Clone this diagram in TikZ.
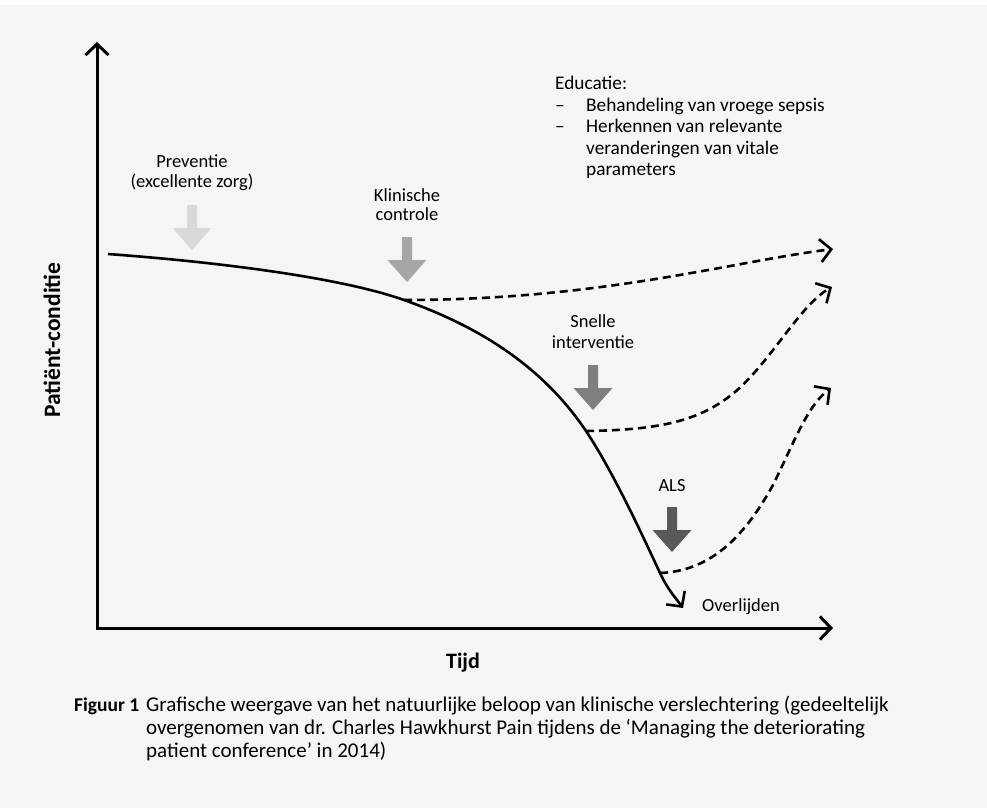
\documentclass[tikz,border=0pt]{standalone}
\usepackage{fontspec}
\setmainfont{Carlito}
\usetikzlibrary{arrows.meta}

\definecolor{paper}{HTML}{F5F5F5}
\definecolor{shadeA}{HTML}{D9D9D9}
\definecolor{shadeB}{HTML}{A6A6A6}
\definecolor{shadeC}{HTML}{7F7F7F}
\definecolor{shadeD}{HTML}{595959}

\tikzset{
  barb/.tip={Straight Barb[length=11pt,width=23pt]},
  axisline/.style={line width=3pt,line join=miter,{barb}-{barb}},
  course/.style={line width=2.6pt,-{barb}},
  outcome/.style={line width=2.6pt,dash pattern=on 8pt off 5pt,-{barb}},
  lbl/.style={font=\fontsize{18.5}{22}\selectfont,inner sep=0pt,anchor=base},
  lblw/.style={lbl,anchor=base west},
  edu/.style={font=\fontsize{19.3}{22}\selectfont,inner sep=0pt,anchor=base west},
  axlbl/.style={font=\fontsize{22}{26}\selectfont\bfseries,inner sep=0pt,anchor=base},
  captext/.style={font=\fontsize{21}{24}\selectfont,inner sep=0pt,anchor=base west},
  downarrow/.pic={
    \fill[pic actions] (-5,0) -- (5,0) -- (5,23) -- (19.5,23) -- (0,45)
      -- (-19.5,23) -- (-5,23) -- cycle;
  }
}

\begin{document}
\begin{tikzpicture}[x=1pt,y=-1pt]
% page
\fill[white] (0,0) rectangle (987,808);
\fill[paper] (0,5) rectangle (987,808);
\useasboundingbox (0,0) rectangle (987,808);

% axes
\coordinate (ytop) at (97,42);
\coordinate (origin) at (97,628);
\coordinate (xend) at (833,628);
\draw[axisline] (ytop) -- (origin) -- (xend);

\node[axlbl,font=\fontsize{23.5}{26}\selectfont\bfseries,rotate=90] (ylab) at (60,340) {Patiënt-conditie};
\node[axlbl] (xlab) at (463,668) {Tijd};

% branch points on the course
\coordinate (start) at (108,254);
\coordinate (b1) at (404,300);
\coordinate (b2) at (586,431);
\coordinate (b3) at (660,573);
\coordinate (dead) at (683,608);
\coordinate (e1) at (833,249);
\coordinate (e2) at (832,287);
\coordinate (e3) at (831,388);

% natural course of deterioration
\draw[course] (start) .. controls (230,263) and (345,279) .. (b1)
  .. controls (460,320) and (535,355) .. (b2)
  .. controls (612,470) and (640,530) .. (b3)
  .. controls (668,590) and (675,597) .. (dead);

% alternative courses after intervention
\draw[outcome] (b1) .. controls (600,300) and (730,262) .. (e1);
\draw[outcome] (b2) .. controls (660,430) and (700,421) .. (735,392)
  .. controls (772,360) and (800,305) .. (e2);
\draw[outcome] (b3) .. controls (715,571) and (748,530) .. (773,485)
  .. controls (795,440) and (808,405) .. (e3);

% interventions
\pic[fill=shadeA] (arrA) at (192,205) {downarrow};
\pic[fill=shadeB] (arrB) at (407,237) {downarrow};
\pic[fill=shadeC] (arrC) at (593,365) {downarrow};
\pic[fill=shadeD] (arrD) at (672,507) {downarrow};

\node[lbl] (prevA) at (192,167) {Preventie};
\node[lbl] (prevB) at (192,187) {(excellente zorg)};
\node[lbl] (klinA) at (407,201) {Klinische};
\node[lbl] (klinB) at (407,220) {controle};
\node[lbl] (snelA) at (593,327) {Snelle};
\node[lbl] (snelB) at (593,348) {interventie};
\node[lbl] (als) at (672,491) {ALS};
\node[lblw] (death) at (702,611) {Overlijden};

% education
\node[edu] (eduA) at (555,89) {Educatie:};
\node[edu] (dashA) at (555,111) {–};
\node[edu] (eduB) at (586,111) {Behandeling van vroege sepsis};
\node[edu] (dashB) at (555,132) {–};
\node[edu] (eduC) at (586,132) {Herkennen van relevante};
\node[edu] (eduD) at (586,154) {veranderingen van vitale};
\node[edu] (eduE) at (586,175) {parameters};

% caption
\node[captext,font=\fontsize{19.5}{24}\selectfont\bfseries] (figno) at (74,711) {Figuur 1};
\node[captext] (capA) at (146,711) {Grafische weergave van het natuurlijke beloop van klinische verslechtering (gedeeltelijk};
\node[captext] (capB) at (146,734) {overgenomen van dr. Charles Hawkhurst Pain tijdens de ‘Managing the deteriorating};
\node[captext] (capC) at (146,757) {patient conference’ in 2014)};
\end{tikzpicture}
\end{document}
